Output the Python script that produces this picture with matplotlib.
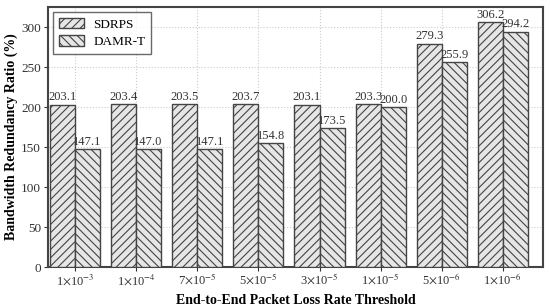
import matplotlib
matplotlib.use("Agg")
import matplotlib.pyplot as plt
import numpy as np

categories = [r"1$\times$10$^{-3}$", r"1$\times$10$^{-4}$", r"7$\times$10$^{-5}$", r"5$\times$10$^{-5}$",
              r"3$\times$10$^{-5}$", r"1$\times$10$^{-5}$", r"5$\times$10$^{-6}$", r"1$\times$10$^{-6}$"]
sdrps = [203.1, 203.4, 203.5, 203.7, 203.1, 203.3, 279.3, 306.2]
damr_t = [147.1, 147.0, 147.1, 154.8, 173.5, 200.0, 255.9, 294.2]
series_names = ["SDRPS", "DAMR-T"]

plt.rcParams['font.family'] = ['Liberation Serif', 'DejaVu Serif']
plt.rcParams['mathtext.fontset'] = 'stix'
plt.rcParams['hatch.color'] = '#444444'
plt.rcParams['hatch.linewidth'] = 0.8

fig = plt.figure(figsize=(5.5, 3.07), dpi=100)
ax = fig.add_axes([48/550, 1-267/307, (543-48)/550, (267-7)/307])

x = np.arange(len(categories))
w = 0.41
b1 = ax.bar(x - w/2, sdrps, w, facecolor='#e6e6e6', edgecolor='#444444', linewidth=1.0,
            hatch='////', label=series_names[0], zorder=3)
b2 = ax.bar(x + w/2, damr_t, w, facecolor='#e6e6e6', edgecolor='#444444', linewidth=1.0,
            hatch='\\\\\\\\', label=series_names[1], zorder=3)

for rect, v in zip(b1, sdrps):
    ax.text(rect.get_x() + rect.get_width()/2, v + 1.5, f"{v:.1f}", ha='center', va='bottom',
            fontsize=9, color='#333333')
for rect, v in zip(b2, damr_t):
    ax.text(rect.get_x() + rect.get_width()/2, v + 1.5, f"{v:.1f}", ha='center', va='bottom',
            fontsize=9, color='#333333')

ax.set_xlim(-0.44, 7.655)
ax.set_ylim(0, 325)
ax.set_yticks(np.arange(0, 301, 50))
ax.set_xticks(x)
ax.set_xticklabels(categories, fontsize=9)
ax.tick_params(axis='y', labelsize=9.5, length=3, pad=2, direction='out', colors='#333333')
ax.tick_params(axis='x', length=3, pad=1, colors='#333333')
ax.grid(True, linestyle=':', color='#cccccc', linewidth=0.8, zorder=0)
ax.set_axisbelow(True)
for s in ax.spines.values():
    s.set_linewidth(1.5)
    s.set_color('#444444')

ax.set_xlabel("End-to-End Packet Loss Rate Threshold", fontsize=10, fontweight='bold', labelpad=4)
ax.set_ylabel("Bandwidth Redundancy Ratio (%)", fontsize=10, fontweight='bold', labelpad=2)

leg = ax.legend(loc='upper left', fontsize=9.5, frameon=True, fancybox=False, edgecolor='#444444',
                handlelength=1.9, handleheight=0.8, borderpad=0.45, labelspacing=0.35,
                handletextpad=0.7, borderaxespad=0.4)
leg.get_frame().set_linewidth(1.0)

fig.savefig("out.png", dpi=100)
